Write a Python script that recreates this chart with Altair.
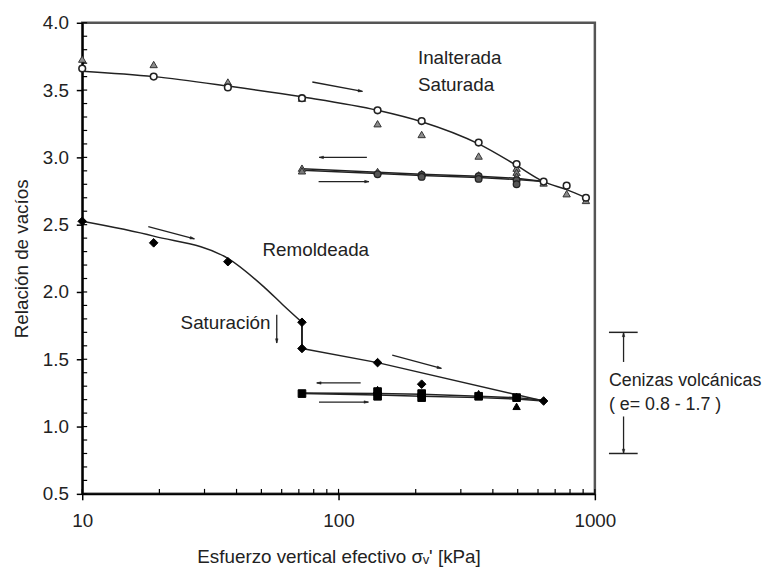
import math
import altair as alt
import pandas as pd

W, H = 518, 476
FONT = "Liberation Sans"
FS = 19
TXT = "#222"

# ---------------- data ----------------
# Inalterada / Saturada, loading branch
ina_x = [10, 19, 37, 72, 142, 211, 352, 495, 631, 776, 923]
ina_circle_e = [3.66, 3.60, 3.52, 3.44, 3.35, 3.27, 3.11, 2.95, 2.82, 2.79, 2.70]
ina_tri_e = [3.73, 3.69, 3.56, 3.44, 3.25, 3.17, 3.01, 2.92, 2.81, 2.73, 2.68]
ina_curve_x = [10, 19, 37, 72, 142, 211, 352, 495, 631, 776, 923]
ina_curve_e = [3.64, 3.60, 3.53, 3.45, 3.35, 3.265, 3.10, 2.94, 2.82, 2.76, 2.70]
# unloading / reloading branch (upper)
ina_unl_x = [631, 495, 352, 211, 142, 72]
ina_unl_e = [2.82, 2.845, 2.86, 2.875, 2.89, 2.915]
ina_rel_x = [72, 142, 211, 352, 495, 631]
ina_rel_e = [2.905, 2.88, 2.865, 2.85, 2.835, 2.82]
ina_unl_tri_x = [72, 72, 142, 211, 352, 495, 495]
ina_unl_tri_e = [2.92, 2.90, 2.895, 2.88, 2.87, 2.89, 2.86]
ina_rel_pt_x = [142, 211, 211, 352, 352, 495, 495]
ina_rel_pt_e = [2.875, 2.87, 2.855, 2.86, 2.84, 2.83, 2.80]

# Remoldeada
rem_x = [10, 19, 37, 72, 72, 142, 211, 631]
rem_e = [2.525, 2.365, 2.225, 1.775, 1.58, 1.475, 1.315, 1.19]
rem_curve_x = [10, 19, 37, 51, 61, 72]
rem_curve_e = [2.525, 2.415, 2.25, 2.04, 1.90, 1.775]
rem_vert_x = [72, 72]
rem_vert_e = [1.775, 1.58]
rem_line_x = [72, 142, 631]
rem_line_e = [1.58, 1.475, 1.19]
rem_unl_x = [631, 495, 352, 211, 142, 72]
rem_unl_e = [1.195, 1.215, 1.225, 1.24, 1.245, 1.25]
rem_rel_x = [72, 142, 211, 352, 495, 631]
rem_rel_e = [1.245, 1.235, 1.225, 1.215, 1.205, 1.19]
rem_sq_x = [72, 142, 142, 211, 211, 352, 495]
rem_sq_e = [1.245, 1.26, 1.225, 1.245, 1.215, 1.225, 1.215]
rem_tri_x = [142, 352, 495, 495]
rem_tri_e = [1.275, 1.245, 1.225, 1.15]

# arrows: (x_tail, e_tail, x_head, e_head)
arrows = [
    (79.0, 3.56, 124.0, 3.49),
    (129.0, 3.00, 84.0, 3.00),
    (83.6, 2.82, 131.5, 2.82),
    (18.1, 2.485, 27.4, 2.395),
    (162.0, 1.53, 252.0, 1.432),
    (122.0, 1.324, 82.2, 1.324),
    (83.9, 1.182, 130.8, 1.182),
    (57.4, 1.83, 57.4, 1.62),
    (1294, 1.48, 1294, 1.70),
    (1294, 1.075, 1294, 0.80),
]
bar_x1 = [1135, 1135]
bar_x2 = [1469, 1469]
bar_e = [1.70, 0.80]

labels_t = ["Inalterada", "Saturada", "Remoldeada", "Saturación"]
labels_x = [204, 204, 50.5, 24.2]
labels_e = [3.74, 3.54, 2.314, 1.77]
side_t = ["Cenizas volcánicas", "( e= 0.8 - 1.7 )"]
side_x = [1135, 1135]
side_e = [1.34, 1.162]

x_tick_vals = [10, 20, 30, 40, 50, 60, 70, 80, 90, 100,
               200, 300, 400, 500, 600, 700, 800, 900, 1000]
y_tick_vals = [round(0.5 + 0.1 * i, 1) for i in range(36)]
y_major = [0.5, 1.0, 1.5, 2.0, 2.5, 3.0, 3.5, 4.0]

# ---------------- helpers ----------------
def frame(xs, es, **extra):
    d = {"x": xs, "e": es}
    d.update(extra)
    return pd.DataFrame(d)

xscale = alt.Scale(type="log", domain=[10, 1000], nice=False)
yscale = alt.Scale(domain=[0.5, 4.0], nice=False, zero=False)

X = alt.X("x:Q", scale=xscale, axis=alt.Axis(
    values=[10, 100, 1000], format="d", grid=False,
    title="Esfuerzo vertical efectivo  σᵥ' [kPa]",
    tickSize=6, tickWidth=1.5, tickColor="black",
    domainColor="black", domainWidth=2,
    labelFont=FONT, labelFontSize=FS, labelColor=TXT, labelPadding=12,
    labelFlush=False, labelOverlap=False,
    titleFont=FONT, titleFontSize=FS, titleFontWeight="normal",
    titleColor=TXT, titlePadding=17))
Y = alt.Y("e:Q", scale=yscale, axis=alt.Axis(
    values=y_major, format=".1f", grid=False,
    title="Relación de vacíos",
    tickSize=6, tickWidth=1.5, tickColor="black",
    domainColor="black", domainWidth=2,
    labelFont=FONT, labelFontSize=FS, labelColor=TXT, labelPadding=8,
    labelFlush=False, labelOverlap=False,
    titleFont=FONT, titleFontSize=FS, titleFontWeight="normal",
    titleColor=TXT, titlePadding=11))

def line(xs, es, interp="linear", width=1.5):
    return alt.Chart(frame(xs, es, o=list(range(len(xs))))).mark_line(
        color="#222", strokeWidth=width, interpolate=interp
    ).encode(x=X, y=Y, order="o:Q")

def pts(xs, es, shape, fill, stroke, size, sw=1.0):
    return alt.Chart(frame(xs, es)).mark_point(
        shape=shape, filled=True, fill=fill, stroke=stroke,
        strokeWidth=sw, size=size, opacity=1
    ).encode(x=X, y=Y)

layers = []

# curves
layers.append(line(ina_curve_x, ina_curve_e, "monotone"))
layers.append(line(ina_unl_x, ina_unl_e))
layers.append(line(ina_rel_x, ina_rel_e))
layers.append(line(rem_curve_x, rem_curve_e, "monotone"))
layers.append(line(rem_vert_x, rem_vert_e, width=2))
layers.append(line(rem_line_x, rem_line_e))
layers.append(line(rem_unl_x, rem_unl_e))
layers.append(line(rem_rel_x, rem_rel_e))

# markers
layers.append(pts(ina_x, ina_tri_e, "triangle-up", "#8c8c8c", "#333", 55))
layers.append(pts(ina_unl_tri_x, ina_unl_tri_e, "triangle-up", "#7a7a7a", "#333", 55))
layers.append(pts(ina_rel_pt_x, ina_rel_pt_e, "circle", "#555", "#222", 45, 1.3))
layers.append(pts(ina_x, ina_circle_e, "circle", "white", "#222", 45, 1.6))
layers.append(pts(rem_tri_x, rem_tri_e, "triangle-up", "black", "black", 55))
layers.append(pts(rem_sq_x, rem_sq_e, "square", "black", "black", 60))
layers.append(pts(rem_x, rem_e, "diamond", "black", "black", 75))

# arrows
shaft_rows = []
head_rows = []
px_per_decade = W / 2.0
px_per_unit = H / 3.5
for i, (x1, e1, x2, e2) in enumerate(arrows):
    shaft_rows.append({"x": x1, "e": e1, "id": i, "o": 0})
    shaft_rows.append({"x": x2, "e": e2, "id": i, "o": 1})
    dx = (math.log10(x2) - math.log10(x1)) * px_per_decade
    dy = (e1 - e2) * px_per_unit
    ang = math.degrees(math.atan2(dy, dx)) % 360
    head_rows.append({"x": x2, "e": e2, "ang": ang})

layers.append(alt.Chart(pd.DataFrame(shaft_rows)).mark_line(
    color="#222", strokeWidth=1.3
).encode(x=X, y=Y, detail="id:N", order="o:Q"))
layers.append(alt.Chart(pd.DataFrame(head_rows)).mark_point(
    shape="M0,0L-2.2,-0.65L-2.2,0.65Z", filled=True, fill="#222",
    stroke="#222", strokeWidth=0.5, size=16, opacity=1
).encode(x=X, y=Y, angle=alt.Angle("ang:Q", scale=None)))

# bars of the range annotation
layers.append(alt.Chart(pd.DataFrame({"x": bar_x1, "x2": bar_x2, "e": bar_e})).mark_rule(
    color="#222", strokeWidth=1.5
).encode(x=X, x2="x2:Q", y=Y))

# texts
layers.append(alt.Chart(frame(labels_x, labels_e, t=labels_t)).mark_text(
    align="left", baseline="middle", font=FONT, fontSize=FS, color=TXT
).encode(x=X, y=Y, text="t:N"))
layers.append(alt.Chart(frame(side_x, side_e, t=side_t)).mark_text(
    align="left", baseline="middle", font=FONT, fontSize=18, color=TXT
).encode(x=X, y=Y, text="t:N"))

# inner (minor) ticks
layers.append(alt.Chart(pd.DataFrame({"x": x_tick_vals})).mark_rule(
    color="black", strokeWidth=1.2
).encode(x=X, y=alt.value(H), y2=alt.value(H - 5)))
layers.append(alt.Chart(pd.DataFrame({"e": y_tick_vals})).mark_rule(
    color="black", strokeWidth=1.2
).encode(y=Y, x=alt.value(0), x2=alt.value(5)))

chart = alt.layer(*layers).properties(
    width=W, height=H,
    padding={"left": 75, "top": 12, "right": 180, "bottom": 74},
    autosize=alt.AutoSizeParams(type="none"),
).configure_view(stroke="#555", strokeWidth=2.5)

chart.save("out.html", embed_options={"renderer": "svg", "actions": False})
